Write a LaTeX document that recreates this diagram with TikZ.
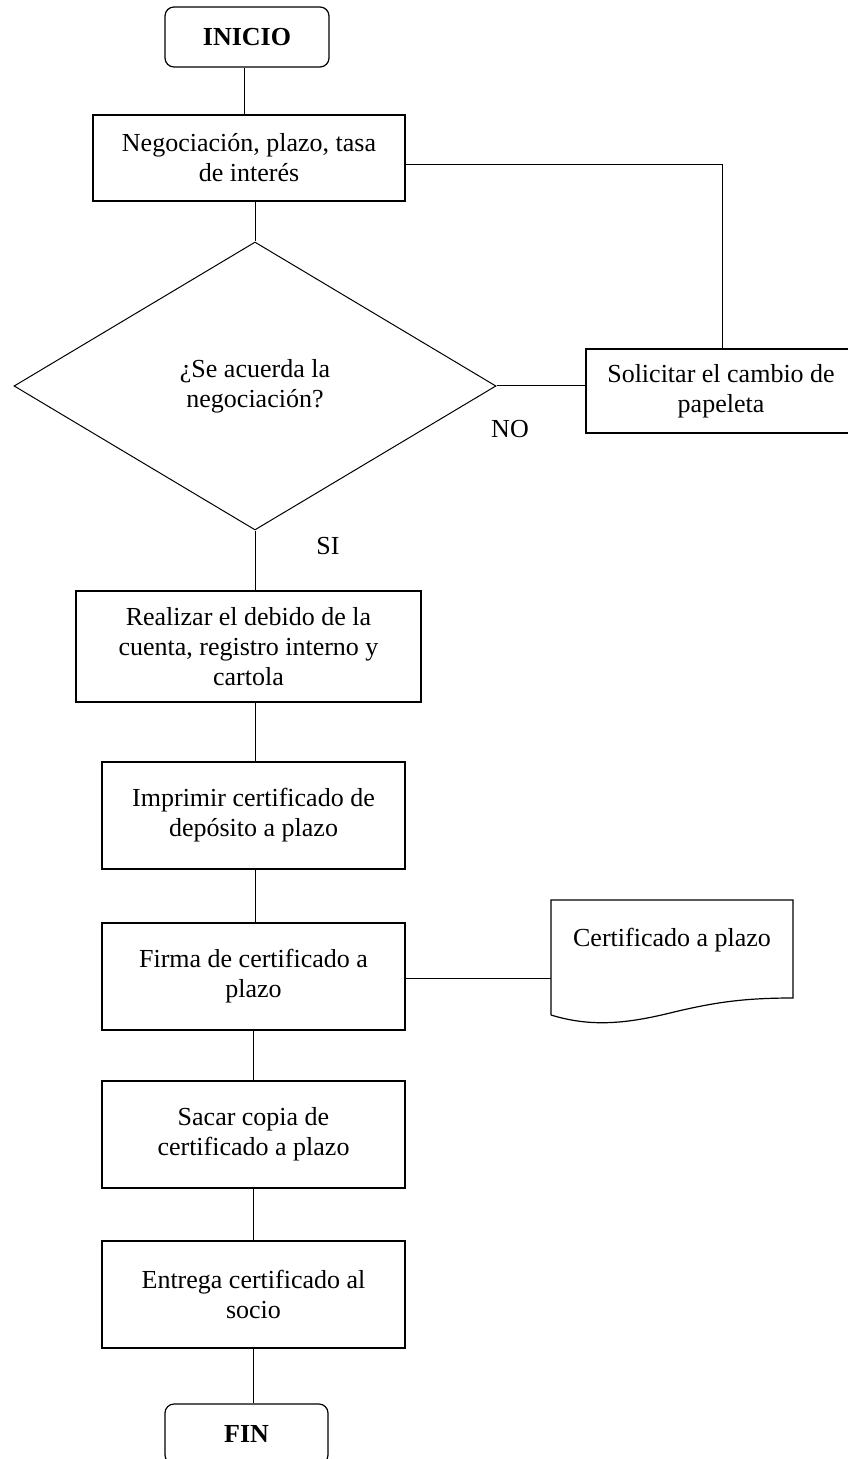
\documentclass[tikz,border=0pt]{standalone}
\usepackage{fontspec}
\setmainfont{Liberation Serif}
\usetikzlibrary{shapes.geometric}
\newcommand\boxfont{\fontsize{13}{15}\selectfont}
\begin{document}
\begin{tikzpicture}[x=0.5pt,y=-0.5pt,
  proc/.style={draw, line width=0.6pt, align=center, inner sep=0pt, font=\boxfont},
  terminal/.style={proc, rounded corners=4.5pt, font=\boxfont\bfseries},
  decision/.style={draw, diamond, line width=0.5pt, inner sep=0pt, align=center, font=\boxfont},
  conn/.style={line width=0.5pt},
  lbl/.style={inner sep=0pt, font=\boxfont}]
\path[use as bounding box] (0,0) rectangle (847,1459);

% start / end
\node[terminal, minimum width=82pt, minimum height=30pt] (inicio) at (247,37) {INICIO};
\node[terminal, minimum width=81.5pt, minimum height=30pt] (fin) at (246.5,1434) {FIN};

% process boxes
\node[proc, minimum width=156pt, minimum height=43pt] (neg) at (249,158) {Negociación, plazo, tasa\\de interés};
\node[decision, minimum width=241pt, minimum height=144pt] (dec) at (255,386) {¿Se acuerda la\\negociación?};
\node[proc, minimum width=135pt, minimum height=42pt] (sol) at (721,391) {Solicitar el cambio de\\papeleta};
\node[proc, minimum width=172.5pt, minimum height=55.5pt] (real) at (248.5,646.5) {Realizar el debido de la\\cuenta, registro interno y\\cartola};
\node[proc, minimum width=151.5pt, minimum height=53.5pt] (impr) at (253.5,815.5) {Imprimir certificado de\\depósito a plazo};
\node[proc, minimum width=151.5pt, minimum height=53.5pt] (firma) at (253.5,976.5) {Firma de certificado a\\plazo};
\node[proc, minimum width=151.5pt, minimum height=53.5pt] (sacar) at (253.5,1134.5) {Sacar copia de\\certificado a plazo};
\node[proc, minimum width=151.5pt, minimum height=53.5pt] (entrega) at (253.5,1294.5) {Entrega certificado al\\socio};

% document symbol
\node[lbl] (doc) at (672,940) {Certificado a plazo};
\coordinate (dtl) at (551,900);
\coordinate (dtr) at (793,900);
\coordinate (dbr) at (793,998);
\coordinate (dbl) at (551,1015);
\coordinate (docw) at (551,978);
\draw[line width=0.6pt] (dbl) -- (dtl) -- (dtr) -- (dbr)
  .. controls (745,998) and (715,1002) .. (670,1013)
  .. controls (625,1024) and (590,1027) .. (dbl);

% branch labels
\node[lbl] (no) at (510,429) {NO};
\node[lbl] (si) at (328,546) {SI};

% connectors
\coordinate (jn) at (722,165);
\draw[conn] (inicio.south -| 244,0) -- (neg.north -| 244,0);
\draw[conn] (dec.north |- neg.south) -- (dec.north);
\draw[conn] (neg.east |- jn) -- (jn) -- (sol.north -| jn);
\draw[conn] (dec.east) -- (dec.east -| sol.west);
\draw[conn] (dec.south) -- (dec.south |- real.north);
\draw[conn] (dec.south |- real.south) -- (dec.south |- impr.north);
\draw[conn] (dec.south |- impr.south) -- (dec.south |- firma.north);
\draw[conn] (firma.east |- docw) -- (docw);
\draw[conn] (firma.south) -- (sacar.north);
\draw[conn] (sacar.south) -- (entrega.north);
\draw[conn] (entrega.south -| 253,0) -- (fin.north -| 253,0);
\end{tikzpicture}
\end{document}
